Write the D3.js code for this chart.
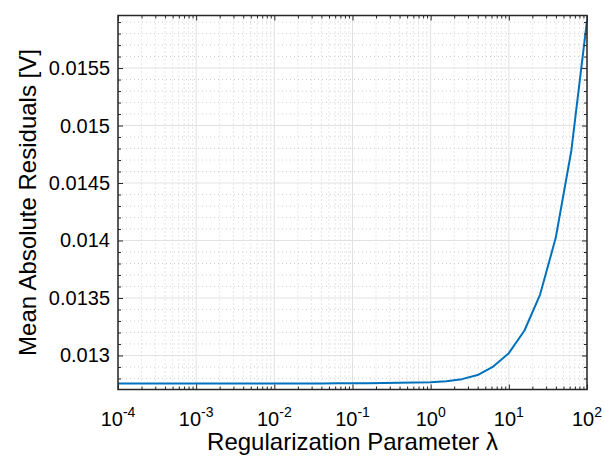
<!DOCTYPE html>
<html>
<head>
<meta charset="utf-8">
<script src="https://cdn.jsdelivr.net/npm/d3@7"></script>
<style>
  body { margin: 0; background: #fff; }
  svg text { font-family: "Liberation Sans", Arial, Helvetica, sans-serif; fill: #000; }
  .grid-major line { stroke: #e2e2e2; stroke-width: 1; }
  .grid-minor line { stroke: #cfcfcf; stroke-width: 1; stroke-dasharray: 1 3; }
  .axis path { display: none; }
  .axis line { stroke: #262626; }
  .frame { fill: none; stroke: #262626; stroke-width: 1.5; }
  .line { fill: none; stroke: #0072BD; stroke-width: 2; stroke-linejoin: round; }
</style>
</head>
<body>
<svg id="chart"></svg>
<script>
// regularization parameter values (log spaced)
const lambdas = [
  1e-4, 1.585e-4, 2.512e-4, 3.981e-4, 6.310e-4,
  1e-3, 1.585e-3, 2.512e-3, 3.981e-3, 6.310e-3,
  1e-2, 1.585e-2, 2.512e-2, 3.981e-2, 6.310e-2,
  1e-1, 1.585e-1, 2.512e-1, 3.981e-1, 6.310e-1,
  1, 1.585, 2.512, 3.981, 6.310,
  10, 15.85, 25.12, 39.81, 63.10,
  100
];

// mean absolute residuals [V]
const residuals = [
  0.012757, 0.012757, 0.012757, 0.012757, 0.012757,
  0.012757, 0.012757, 0.012757, 0.012757, 0.012757,
  0.012757, 0.012757, 0.012757, 0.012757, 0.012758,
  0.012758, 0.012759, 0.012760, 0.012762, 0.012764,
  0.012768, 0.012776, 0.012794, 0.012830, 0.012904,
  0.013020, 0.013217, 0.013530, 0.014023, 0.014783,
  0.015913
];

const xTicks = [1e-4, 1e-3, 1e-2, 1e-1, 1, 10, 100];
const xTickExponents = ['-4', '-3', '-2', '-1', '0', '1', '2'];
const yTicks = [0.013, 0.0135, 0.014, 0.0145, 0.015, 0.0155];
const yTickLabels = ['0.013', '0.0135', '0.014', '0.0145', '0.015', '0.0155'];
const xDomain = [1e-4, 100];
const yDomain = [0.012704, 0.015957];

class ResidualChart {

  constructor(_config) {
    this.config = {
      parentElement: _config.parentElement,
      containerWidth: _config.containerWidth || 604,
      containerHeight: _config.containerHeight || 456,
      margin: _config.margin || { top: 15.5, right: 17, bottom: 66.5, left: 118 }
    };
    this.initVis();
  }

  initVis() {
    let vis = this;

    vis.width = vis.config.containerWidth - vis.config.margin.left - vis.config.margin.right;
    vis.height = vis.config.containerHeight - vis.config.margin.top - vis.config.margin.bottom;

    vis.xScale = d3.scaleLog()
      .domain(xDomain)
      .range([0, vis.width]);

    vis.yScale = d3.scaleLinear()
      .domain(yDomain)
      .range([vis.height, 0]);

    vis.svg = d3.select(vis.config.parentElement)
      .attr('width', vis.config.containerWidth)
      .attr('height', vis.config.containerHeight);

    vis.chart = vis.svg.append('g')
      .attr('transform', `translate(${vis.config.margin.left},${vis.config.margin.top})`);

    vis.renderVis();
  }

  renderVis() {
    let vis = this;

    // minor ticks: the 2..9 multiples of every decade, and every 0.0001 on y
    const xMinor = vis.xScale.ticks().filter(d => !xTicks.some(t => Math.abs(t - d) / t < 1e-9));
    const yMinor = vis.yScale.ticks(30).filter(d => !yTicks.some(t => Math.abs(t - d) < 1e-9));

    // grid
    const gMinor = vis.chart.append('g').attr('class', 'grid-minor');
    gMinor.selectAll('.vx').data(xMinor).join('line')
      .attr('x1', d => vis.xScale(d)).attr('x2', d => vis.xScale(d))
      .attr('y1', 0).attr('y2', vis.height);
    gMinor.selectAll('.hy').data(yMinor).join('line')
      .attr('y1', d => vis.yScale(d)).attr('y2', d => vis.yScale(d))
      .attr('x1', 0).attr('x2', vis.width);

    const gMajor = vis.chart.append('g').attr('class', 'grid-major');
    gMajor.selectAll('.vx').data(xTicks).join('line')
      .attr('x1', d => vis.xScale(d)).attr('x2', d => vis.xScale(d))
      .attr('y1', 0).attr('y2', vis.height);
    gMajor.selectAll('.hy').data(yTicks).join('line')
      .attr('y1', d => vis.yScale(d)).attr('y2', d => vis.yScale(d))
      .attr('x1', 0).attr('x2', vis.width);

    // data line
    vis.line = d3.line()
      .x((d, i) => vis.xScale(lambdas[i]))
      .y(d => vis.yScale(d));

    vis.chart.append('path')
      .datum(residuals)
      .attr('class', 'line')
      .attr('d', vis.line);

    // inward ticks on all four sides (major + minor)
    const addTicks = (axisFn, scale, values, size, transform) => {
      vis.chart.append('g')
        .attr('class', 'axis')
        .attr('transform', transform)
        .call(axisFn(scale).tickValues(values).tickSize(-size).tickFormat(''));
    };
    addTicks(d3.axisBottom, vis.xScale, xTicks, 5, `translate(0,${vis.height})`);
    addTicks(d3.axisBottom, vis.xScale, xMinor, 3, `translate(0,${vis.height})`);
    addTicks(d3.axisTop, vis.xScale, xTicks, 5, 'translate(0,0)');
    addTicks(d3.axisTop, vis.xScale, xMinor, 3, 'translate(0,0)');
    addTicks(d3.axisLeft, vis.yScale, yTicks, 5, 'translate(0,0)');
    addTicks(d3.axisLeft, vis.yScale, yMinor, 3, 'translate(0,0)');
    addTicks(d3.axisRight, vis.yScale, yTicks, 5, `translate(${vis.width},0)`);
    addTicks(d3.axisRight, vis.yScale, yMinor, 3, `translate(${vis.width},0)`);

    // box
    vis.chart.append('rect')
      .attr('class', 'frame')
      .attr('width', vis.width)
      .attr('height', vis.height);

    // y tick labels
    vis.chart.append('g').selectAll('text')
      .data(yTicks)
      .join('text')
      .attr('x', -8)
      .attr('y', d => vis.yScale(d))
      .attr('dy', '0.35em')
      .attr('text-anchor', 'end')
      .style('font-size', '20px')
      .text((d, i) => yTickLabels[i]);

    // x tick labels with superscript exponents
    const xl = vis.chart.append('g').selectAll('text')
      .data(xTicks)
      .join('text')
      .attr('x', d => vis.xScale(d))
      .attr('y', vis.height + 36)
      .attr('text-anchor', 'middle')
      .style('font-size', '20px');
    xl.append('tspan').text('10');
    xl.append('tspan')
      .attr('dy', -9)
      .style('font-size', '14px')
      .text((d, i) => xTickExponents[i]);

    // axis titles
    vis.chart.append('text')
      .attr('x', vis.width / 2)
      .attr('y', vis.height + 60.5)
      .attr('text-anchor', 'middle')
      .style('font-size', '24px')
      .text('Regularization Parameter λ');

    vis.chart.append('text')
      .attr('transform', `translate(${36 - vis.config.margin.left},${vis.height / 2}) rotate(-90)`)
      .attr('text-anchor', 'middle')
      .style('font-size', '24px')
      .text('Mean Absolute Residuals [V]');
  }
}

const chart = new ResidualChart({ parentElement: '#chart' });
</script>
</body>
</html>
